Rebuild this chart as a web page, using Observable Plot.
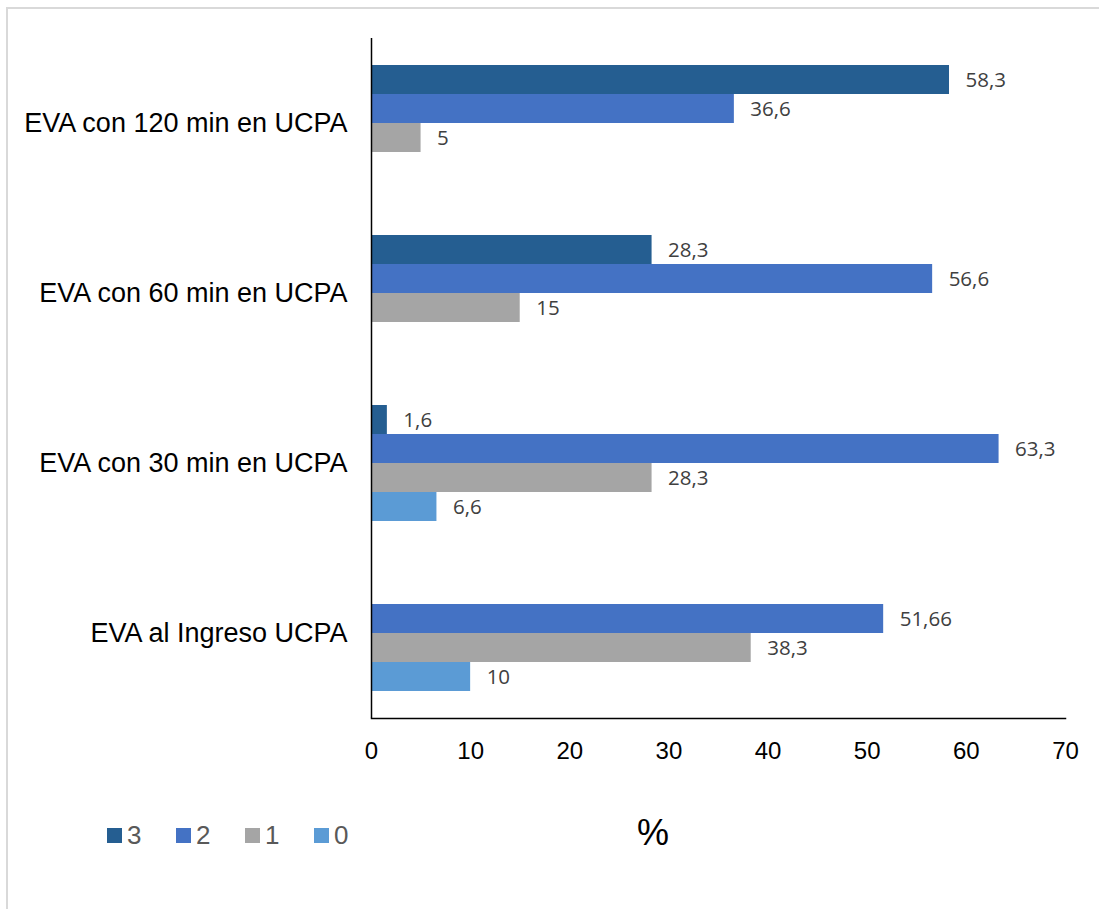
<!DOCTYPE html>
<html>
<head>
<meta charset="utf-8">
<script src="https://cdn.jsdelivr.net/npm/d3@7"></script>
<script src="https://cdn.jsdelivr.net/npm/@observablehq/plot@0.6"></script>
<style>
  html, body { margin: 0; padding: 0; background: #fff; }
  #wrap { position: relative; width: 1099px; height: 909px; overflow: hidden; font-family: "Liberation Sans", Arial, sans-serif; }
  #border { position: absolute; left: 6px; top: 7px; width: 1200px; height: 1000px; border-left: 2px solid #d9d9d9; border-top: 2px solid #d9d9d9; }
  #chart { position: absolute; left: 0; top: 0; }
  .item { position: absolute; display: flex; align-items: center; font-size: 26px; color: #595959; }
  .swatch { width: 15px; height: 15px; margin-right: 5px; }
  #unit { position: absolute; left: 637px; top: 812px; font-size: 36px; color: #000; }
</style>
</head>
<body>
<div id="wrap">
  <div id="border"></div>
  <div id="chart"></div>
  <div id="legend"></div>
  <div id="unit">%</div>
</div>
<script>
// Pain scores (EVA) by moment of the stay in the recovery unit
const categories = ["EVA con 120 min en UCPA", "EVA con 60 min en UCPA", "EVA con 30 min en UCPA", "EVA al Ingreso UCPA"];
const series = ["3", "2", "1", "0"];
const colors = ["#255e91", "#4472c4", "#a5a5a5", "#5b9bd5"];

// Percentages per category, one array per score (null = no bar)
const score3 = [58.3, 28.3, 1.6, null];
const score2 = [36.6, 56.6, 63.3, 51.66];
const score1 = [5, 15, 28.3, 38.3];
const score0 = [null, null, 6.6, 10];

const xTicks = [0, 10, 20, 30, 40, 50, 60, 70];

const bySeries = {"3": score3, "2": score2, "1": score1, "0": score0};
const rows = [];
categories.forEach((c, i) => {
  series.forEach(s => {
    const v = bySeries[s][i];
    if (v != null) rows.push({category: c, series: s, value: v});
  });
});

const fmt = v => String(v).replace(".", ",");

const plot = Plot.plot({
  width: 1099,
  height: 800,
  marginLeft: 371,
  marginRight: 34,
  marginTop: 38,
  marginBottom: 82,
  style: {fontFamily: "'Liberation Sans', Arial, sans-serif", color: "#000", background: "transparent"},
  x: {domain: [0, 70]},
  fy: {domain: categories, padding: 0},
  y: {domain: series, padding: 0, insetTop: 26.5, insetBottom: 26.5, axis: null},
  color: {domain: series, range: colors},
  marks: [
    Plot.barX(rows, {x: "value", y: "series", fy: "category", fill: "series"}),
    Plot.text(rows, {
      x: "value", y: "series", fy: "category", text: d => fmt(d.value),
      dx: 16, textAnchor: "start", fill: "#404040", fontSize: 20.5,
      fontFamily: "'Open Sans', 'Noto Sans', sans-serif"
    }),
    Plot.ruleX([0], {stroke: "#000", strokeWidth: 1.5}),
    Plot.frame({anchor: "bottom", facetAnchor: "bottom", stroke: "#000", strokeWidth: 1.5}),
    Plot.axisX({ticks: xTicks, tickSize: 0, tickPadding: 23, fontSize: 24, label: null}),
    Plot.axisFy({anchor: "left", tickSize: 0, tickPadding: 24, fontSize: 27, label: null})
  ]
});
document.getElementById("chart").appendChild(plot);

// Legend below the chart
const legend = document.getElementById("legend");
series.forEach((s, i) => {
  const item = document.createElement("div");
  item.className = "item";
  item.style.left = (107 + i * 69) + "px";
  item.style.top = "820px";
  const sw = document.createElement("div");
  sw.className = "swatch";
  sw.style.background = colors[i];
  item.appendChild(sw);
  const t = document.createElement("span");
  t.textContent = s;
  item.appendChild(t);
  legend.appendChild(item);
});
</script>
</body>
</html>
